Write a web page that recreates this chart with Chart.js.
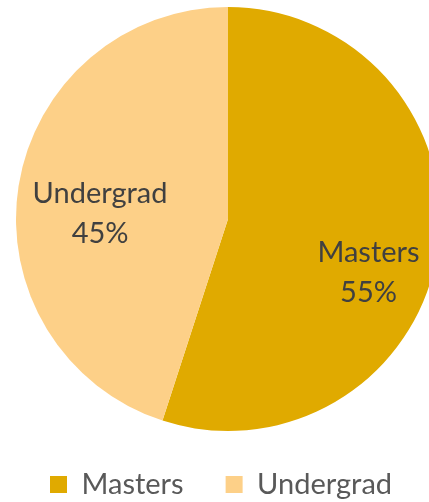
<!DOCTYPE html>
<html><head><meta charset="utf-8">
<script src="https://cdn.jsdelivr.net/npm/chart.js@4/dist/chart.umd.min.js"></script>
<style>html,body{margin:0;padding:0;background:#fff;overflow:hidden}#wrap{width:429px;height:502px;position:relative;overflow:hidden}canvas{display:block}</style>
</head><body><div id="wrap"><canvas id="c" width="460" height="502"></canvas></div>
<script>
const categories = ["Masters", "Undergrad"];
const shares = [55, 45];
const colors = ["#E0AA00", "#FDD088"];

// label placement: angle (deg, canvas coords) and fraction of radius
const labelPlacement = [{angle: 20.8, frac: 0.709}, {angle: 182.5, frac: 0.604}];

const pieLabels = {
  id: 'pieLabels',
  afterLayout(chart) {
    const lg = chart.legend;
    lg.top = 428;
    lg.left = 8;
  },
  afterDatasetsDraw(chart) {
    const ctx = chart.ctx;
    const meta = chart.getDatasetMeta(0);
    const total = shares.reduce((a, b) => a + b, 0);
    meta.data.forEach((arc, i) => {
      const p = labelPlacement[i];
      const a = p.angle * Math.PI / 180;
      const x = arc.x + Math.cos(a) * arc.outerRadius * p.frac;
      const y = arc.y + Math.sin(a) * arc.outerRadius * p.frac;
      ctx.save();
      ctx.fillStyle = '#404040';
      ctx.font = '29px Lato';
      ctx.textAlign = 'center';
      ctx.textBaseline = 'middle';
      ctx.fillText(categories[i], x, y - 20);
      ctx.fillText(Math.round(shares[i] / total * 100) + '%', x, y + 20);
      ctx.restore();
    });
  }
};

new Chart(document.getElementById('c'), {
  type: 'pie',
  data: {
    labels: categories,
    datasets: [{ data: shares, backgroundColor: colors, borderWidth: 0, hoverOffset: 0 }]
  },
  options: {
    responsive: false,
    animation: false,
    layout: { padding: { left: 14, right: 18, top: 7, bottom: -10 } },
    plugins: {
      tooltip: { enabled: false },
      legend: {
        position: 'bottom',
        align: 'start',
        labels: {
          boxWidth: 17, boxHeight: 17, padding: 42,
          color: '#595959',
          font: { family: 'Lato', size: 29 }
        }
      }
    }
  },
  plugins: [pieLabels]
});
</script></body></html>
